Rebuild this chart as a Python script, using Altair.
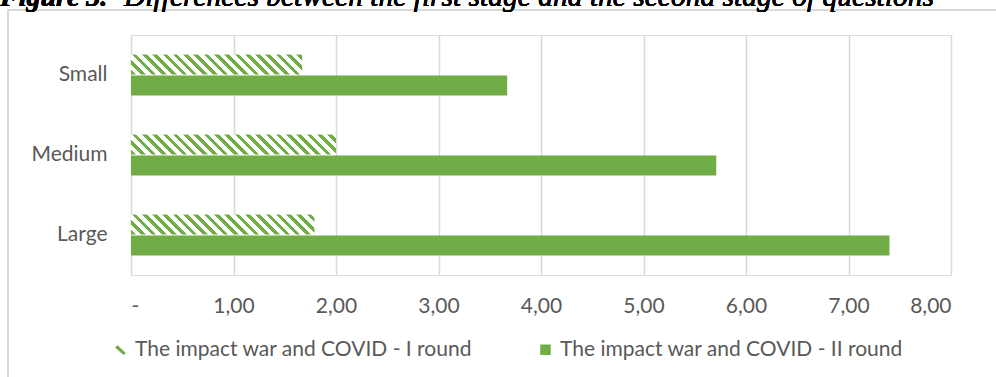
import altair as alt
import pandas as pd

# ---- data ----
categories = ["Small", "Medium", "Large"]
round1 = [1.67, 2.00, 1.79]
round2 = [3.67, 5.71, 7.40]
series = ["The impact war and COVID - I round", "The impact war and COVID - II round"]
x_ticks = [0, 1, 2, 3, 4, 5, 6, 7, 8]
title_bold = "Figure 3."
title_rest = "Differences between the first stage and the second stage of questions"

# ---- style ----
GREEN = "#70ad47"
GRID = "#d9d9d9"
TXT = "#595959"
FONT = "Lato"
W, H = 820, 240
PAD_L, PAD_T = 131, 35
PX = W / 8.0
BAR_H = 20
PERIOD = 10.3
GREEN_FRAC = 0.45


def hatch(value):
    """Diagonal stripe fill (\\\\) as a hard-stop linear gradient in bbox units."""
    w = value * PX
    total = w + BAR_H
    stops = []
    s = 0.0
    while s < total - 1e-9:
        g_end = min(s + PERIOD * GREEN_FRAC, total)
        p_end = min(s + PERIOD, total)
        stops += [(s / total, GREEN), (g_end / total, GREEN),
                  (g_end / total, "#ffffff"), (p_end / total, "#ffffff")]
        s += PERIOD
    k = total / (w * w + BAR_H * BAR_H)
    return alt.LinearGradient(
        gradient="linear",
        stops=[alt.GradientStop(offset=round(o, 5), color=c) for o, c in stops],
        x1=0, y1=1, x2=k * w, y2=1 - k * BAR_H,
    )


df = pd.DataFrame({
    "category": categories * 2,
    "value": round1 + round2,
    "series": [series[0]] * 3 + [series[1]] * 3,
})

base = alt.Chart(df)

y_enc = alt.Y(
    "category:N",
    sort=categories,
    scale=alt.Scale(paddingInner=0.5, paddingOuter=0.25),
    axis=alt.Axis(title=None, domain=False, ticks=False, labelPadding=24,
                  labelFont=FONT, labelFontSize=21, labelColor=TXT),
)
x_enc = alt.X(
    "value:Q",
    scale=alt.Scale(domain=[0, 8], nice=False, zero=True),
    axis=alt.Axis(title=None, values=x_ticks, domain=False, ticks=False,
                  grid=True, gridColor=GRID, gridWidth=1.5,
                  labelExpr="datum.value == 0 ? '-' : replace(format(datum.value, '.2f'), '.', ',')",
                  labelPadding=20, labelFont=FONT, labelFontSize=21, labelColor=TXT),
)

frame = base.mark_rect(fill=None, stroke=GRID, strokeWidth=1.5).encode(
    x=alt.value(8 - PAD_L), x2=alt.value(1100),
    y=alt.value(10 - PAD_T), y2=alt.value(500),
)

solid = base.transform_filter(alt.datum.series == series[1]).mark_bar(
    color=GREEN, height=BAR_H, yOffset=10.5
).encode(x=x_enc, y=y_enc)

hatch_layers = []
for cat, v in zip(categories, round1):
    hatch_layers.append(
        base.transform_filter((alt.datum.series == series[0]) & (alt.datum.category == cat))
        .mark_bar(fill=hatch(v), height=BAR_H, yOffset=-10.5)
        .encode(x=x_enc, y=y_enc)
    )

legend_layer = base.mark_point(filled=True, size=0).encode(
    x=x_enc, y=y_enc,
    color=alt.Color("series:N",
                    scale=alt.Scale(domain=series, range=[GREEN, GREEN]),
                    legend=alt.Legend(title=None, orient="none", direction="horizontal",
                                      legendX=110 - PAD_L, legendY=304,
                                      labelFont=FONT, labelFontSize=21, labelColor=TXT,
                                      labelLimit=600, symbolSize=110, symbolOpacity=1,
                                      symbolStrokeWidth=0, labelOffset=4, columnPadding=62)),
    shape=alt.Shape("series:N",
                    scale=alt.Scale(domain=series,
                                    range=["M-1,-0.4 L-0.6,-0.9 L1,0.6 L0.6,1 Z", "square"]),
                    legend=None),
)

t1 = base.mark_text(font="Liberation Serif", fontSize=28, fontStyle="italic",
                    fontWeight="bold", align="left", baseline="alphabetic", color="#000000").encode(
    x=alt.value(0 - PAD_L), y=alt.value(6 - PAD_T), text=alt.value(title_bold))
t2 = base.mark_text(font="Liberation Serif", fontSize=29.5, fontStyle="italic",
                    fontWeight="normal", align="right", baseline="alphabetic", color="#000000").encode(
    x=alt.value(934 - PAD_L), y=alt.value(6 - PAD_T), text=alt.value(title_rest))

chart = alt.layer(frame, *hatch_layers, solid, legend_layer, t1, t2).properties(
    width=W, height=H,
    autosize=alt.AutoSizeParams(type="none"),
    padding={"left": PAD_L, "top": PAD_T, "right": 996 - PAD_L - W, "bottom": 377 - PAD_T - H},
).configure_view(stroke=None).configure(background="#ffffff")

chart.save("out.html", embed_options={"renderer": "svg", "actions": False})
